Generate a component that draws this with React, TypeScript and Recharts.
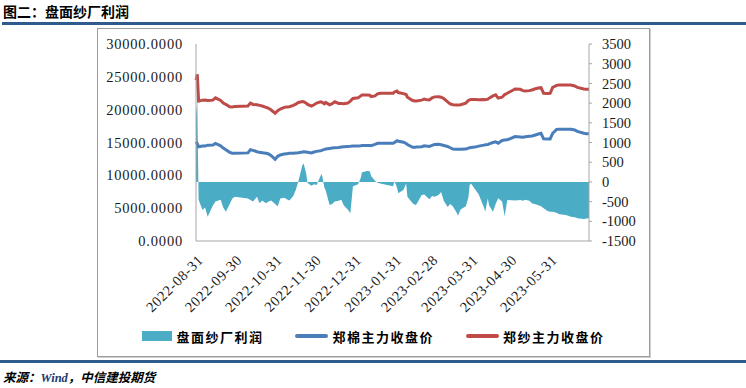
import { ComposedChart, Area, Line, XAxis, YAxis, Legend } from 'recharts'

const dates = [
  '2022-08-31', '2022-09-01', '2022-09-02', '2022-09-05', '2022-09-07', '2022-09-09', '2022-09-13', '2022-09-15', '2022-09-19', '2022-09-21', '2022-09-23', '2022-09-26', '2022-09-28', '2022-09-30',
  '2022-10-10', '2022-10-12', '2022-10-14', '2022-10-17', '2022-10-19', '2022-10-21', '2022-10-24', '2022-10-26', '2022-10-28', '2022-10-31',
  '2022-11-02', '2022-11-04', '2022-11-07', '2022-11-09', '2022-11-11', '2022-11-14', '2022-11-16', '2022-11-18', '2022-11-21', '2022-11-22', '2022-11-24', '2022-11-25', '2022-11-28', '2022-11-30',
  '2022-12-02', '2022-12-05', '2022-12-06', '2022-12-08', '2022-12-09', '2022-12-12', '2022-12-14', '2022-12-16', '2022-12-19', '2022-12-21', '2022-12-23', '2022-12-26', '2022-12-28', '2022-12-30',
  '2023-01-03', '2023-01-05', '2023-01-06', '2023-01-10', '2023-01-12', '2023-01-13', '2023-01-16', '2023-01-18', '2023-01-20', '2023-01-30', '2023-01-31',
  '2023-02-02', '2023-02-03', '2023-02-07', '2023-02-09', '2023-02-10', '2023-02-14', '2023-02-16', '2023-02-17', '2023-02-21', '2023-02-23', '2023-02-24', '2023-02-27',
  '2023-03-01', '2023-03-03', '2023-03-06', '2023-03-08', '2023-03-10', '2023-03-13', '2023-03-15', '2023-03-17', '2023-03-20', '2023-03-21', '2023-03-23', '2023-03-27', '2023-03-29', '2023-03-30', '2023-03-31',
  '2023-04-03', '2023-04-06', '2023-04-10', '2023-04-11', '2023-04-13', '2023-04-14', '2023-04-17', '2023-04-19', '2023-04-21', '2023-04-24', '2023-04-26', '2023-04-28',
  '2023-05-04', '2023-05-08', '2023-05-10', '2023-05-12', '2023-05-15', '2023-05-17', '2023-05-19', '2023-05-22', '2023-05-24', '2023-05-26', '2023-05-29', '2023-05-31',
  '2023-06-02', '2023-06-05', '2023-06-07', '2023-06-09', '2023-06-12', '2023-06-14', '2023-06-16', '2023-06-19', '2023-06-21', '2023-06-26', '2023-06-28', '2023-06-30',
]

// 盘面纱厂利润 (right axis)
const profit = [
  1700, 2035, -450, -713, -650, -883, -600, -500, -450, -650, -756, -560, -420, -380,
  -420, -460, -500, -380, -540, -470, -540, -500, -470, -560,
  -620, -420, -400, -440, -470, -360, -200, 20, 420, 470, 200, -30, -100, -60,
  -80, 150, 200, -150, -220, -586, -560, -500, -480, -450, -600, -700, -797, -110,
  -60, 100, 244, 277, 270, 150, 30, -20, -40, -110, 20,
  -150, -290, -200, -40, -380, -540, -586, -570, -330, -320, -350, -440,
  -360, -380, -330, -255, -480, -640, -560, -620, -780, -858, -700, -620, -400, -80, -40,
  -180, -320, -650, -756, -420, -600, -756, -560, -416, -500, -870, -460,
  -470, -460, -480, -450, -480, -540, -560, -590, -620, -670, -740, -756,
  -756, -780, -820, -830, -840, -860, -883, -900, -924, -940, -930, -920,
]

// 郑棉主力收盘价 (left axis)
const cotton = [
  15130, 14800, 14360, 14460, 14460, 14600, 14620, 14850, 14500, 14150, 13900, 13500, 13360, 13380,
  13420, 13900, 13800, 13600, 13500, 13450, 13350, 13250, 13000, 12440,
  12900, 13100, 13250, 13300, 13350, 13350, 13400, 13450, 13550, 13600, 13550, 13500, 13400, 13550,
  13650, 13750, 13800, 13950, 14000, 14100, 14150, 14200, 14250, 14300, 14350, 14400, 14420, 14450,
  14480, 14520, 14550, 14550, 14550, 14500, 14700, 14880, 14880, 14880, 15000,
  15280, 15200, 15050, 14850, 14700, 14270, 14280, 14300, 14350, 14500, 14480, 14400,
  14550, 14700, 14720, 14650, 14550, 14400, 14200, 14000, 13960, 13960, 13960, 14000, 14150, 14200, 14250,
  14300, 14450, 14600, 14650, 14700, 14800, 15000, 15100, 14900, 15300, 15380, 15400,
  15900, 15850, 15800, 15880, 15950, 16000, 16100, 16300, 16400, 15550, 15530, 15540,
  16400, 17000, 17030, 17030, 17030, 17020, 17000, 16900, 16700, 16400, 16350, 16320,
]

// 郑纱主力收盘价 (left axis)
const yarn = [
  24500, 25400, 21300, 21450, 21470, 21400, 21450, 21800, 21400, 21000, 20800, 20455, 20420, 20500,
  20560, 21000, 20800, 20750, 20650, 20550, 20350, 20200, 19950, 19450,
  19850, 20100, 20350, 20400, 20450, 20650, 20850, 21100, 21250, 21220, 21000, 20800, 20560, 20750,
  21000, 21200, 21150, 20900, 21100, 20750, 20900, 21200, 20950, 20950, 20900, 21000, 21300, 21700,
  21800, 22100, 22240, 22240, 22200, 22000, 22100, 22400, 22490, 22490, 22700,
  22850, 22600, 22450, 22300, 21900, 21400, 21320, 21330, 21450, 21600, 21550, 21470,
  21800, 21950, 21980, 21900, 21700, 21200, 20865, 20750, 20700, 20720, 20750, 21000, 21400, 21500, 21550,
  21550, 21500, 21550, 21500, 21600, 21750, 22100, 22250, 21750, 21900, 22300, 22500,
  23150, 23100, 22900, 22850, 22900, 23000, 23150, 23300, 23350, 22500, 22450, 22500,
  23400, 23700, 23760, 23760, 23760, 23750, 23740, 23600, 23400, 23150, 23100, 23100,
]

const tickDates = ['2022-08-31', '2022-09-30', '2022-10-31', '2022-11-30', '2022-12-31', '2023-01-31', '2023-02-28', '2023-03-31', '2023-04-30', '2023-05-31']
const xStart = '2022-08-31'
const xEnd = '2023-06-30'
const leftTicks = [0, 5000, 10000, 15000, 20000, 25000, 30000]
const rightTicks = [-1500, -1000, -500, 0, 500, 1000, 1500, 2000, 2500, 3000, 3500]

const legendItems = [
  { name: '盘面纱厂利润', color: '#4BACC6', kind: 'area' },
  { name: '郑棉主力收盘价', color: '#4A7EBB', kind: 'line' },
  { name: '郑纱主力收盘价', color: '#BE4B48', kind: 'line' },
]

const toTime = (d: string) => Date.parse(d)

const data = dates.map((d, i) => ({
  t: toTime(d),
  profit: profit[i],
  cotton: cotton[i],
  yarn: yarn[i],
}))

const serif = '"Liberation Serif", "DejaVu Serif", serif'
const cjk = '"Noto Sans CJK SC", sans-serif'
const ruleColor = '#2F5A8C'

function DateTick({ x, y, payload }: any) {
  const label = new Date(payload.value).toISOString().slice(0, 10)
  const ax = x + 8
  const ay = y + 20
  return (
    <text x={ax} y={ay} transform={`rotate(-45, ${ax}, ${ay})`} textAnchor="end" fontSize={14.5} fontFamily={serif} fill="#1a1a1a" letterSpacing={0.6}>
      {label}
    </text>
  )
}

function renderLegend() {
  return (
    <div style={{ display: 'flex', justifyContent: 'center', alignItems: 'center', gap: 32, height: 30 }}>
      {legendItems.map((it) => (
        <div key={it.name} style={{ display: 'flex', alignItems: 'center', gap: 4 }}>
          {it.kind === 'area'
            ? <span style={{ display: 'inline-block', width: 30, height: 10, background: it.color }} />
            : <span style={{ display: 'inline-block', width: 33, height: 4, background: it.color, borderRadius: 2 }} />}
          <span style={{ fontFamily: cjk, fontWeight: 700, fontSize: 13, letterSpacing: 1.5, color: '#000' }}>{it.name}</span>
        </div>
      ))}
    </div>
  )
}

export default function App() {
  return (
    <div style={{ position: 'absolute', left: 0, top: 0, width: 746, height: 388, background: '#fff', overflow: 'hidden' }}>
      <div style={{ position: 'absolute', left: 3, top: 2, fontFamily: cjk, fontWeight: 700, fontSize: 14, lineHeight: '18px', color: '#000' }}>
        图二：盘面纱厂利润
      </div>
      <div style={{ position: 'absolute', left: 2, right: 0, top: 22, height: 3, background: ruleColor }} />

      <div style={{ position: 'absolute', left: 97, top: 28, width: 551, height: 327, border: '1px solid #9c9c9c', boxShadow: '1px 1px 0 #cfcfcf' }} />

      <div style={{ position: 'absolute', left: 97, top: 28 }}>
        <ComposedChart width={553} height={329} data={data} margin={{ top: 16, right: 0, bottom: 6, left: 0 }}>
          <XAxis
            dataKey="t"
            type="number"
            domain={[toTime(xStart), toTime(xEnd)]}
            ticks={tickDates.map(toTime)}
            tick={<DateTick />}
            tickLine={false}
            tickSize={0}
            tickMargin={0}
            height={80}
            interval={0}
            stroke="#a6a6a6"
          />
          <YAxis
            yAxisId="left"
            domain={[0, 30000]}
            ticks={leftTicks}
            tickFormatter={(v: number) => v.toFixed(4)}
            width={99}
            tickLine={false}
            tickSize={0}
            tickMargin={13}
            stroke="#a6a6a6"
            tick={{ fontSize: 14.5, fontFamily: serif, fill: '#1a1a1a', letterSpacing: 0.8 }}
            interval={0}
          />
          <YAxis
            yAxisId="right"
            orientation="right"
            domain={[-1500, 3500]}
            ticks={rightTicks}
            width={61}
            tickSize={3}
            tickMargin={10}
            stroke="#a6a6a6"
            tick={{ fontSize: 14.5, fontFamily: serif, fill: '#1a1a1a' }}
            interval={0}
          />
          <Legend verticalAlign="bottom" height={30} content={renderLegend} />
          <Area
            yAxisId="right"
            dataKey="profit"
            name="盘面纱厂利润"
            type="linear"
            baseValue={0}
            fill="#4BACC6"
            fillOpacity={1}
            stroke="none"
            isAnimationActive={false}
          />
          <Line yAxisId="left" dataKey="cotton" name="郑棉主力收盘价" type="linear" stroke="#4A7EBB" strokeWidth={3} dot={false} isAnimationActive={false} />
          <Line yAxisId="left" dataKey="yarn" name="郑纱主力收盘价" type="linear" stroke="#BE4B48" strokeWidth={3} dot={false} isAnimationActive={false} />
        </ComposedChart>
      </div>

      <div style={{ position: 'absolute', left: 0, right: 0, top: 360, height: 3, background: ruleColor }} />
      <div style={{ position: 'absolute', left: 3, top: 369, fontFamily: cjk, fontWeight: 700, fontStyle: 'italic', fontSize: 12.5, lineHeight: '16px', color: '#000' }}>
        来源：<span style={{ fontFamily: serif, color: '#1F3B70' }}>Wind</span>，中信建投期货
      </div>
    </div>
  )
}
